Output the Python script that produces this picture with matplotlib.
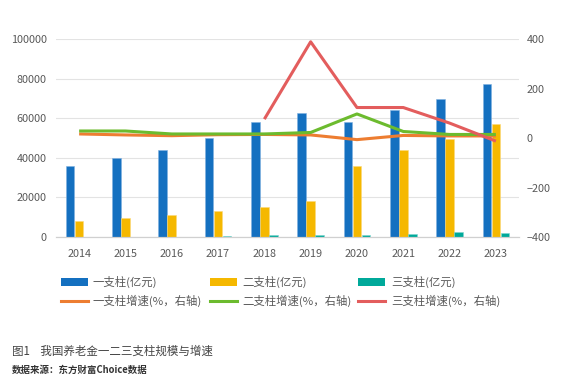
import numpy as np
import matplotlib
matplotlib.use("Agg")
from matplotlib import pyplot as plt
from matplotlib.patches import Rectangle
from matplotlib.lines import Line2D

plt.rcParams['font.family'] = ['Noto Sans CJK SC', 'DejaVu Sans']

years = ['2014', '2015', '2016', '2017', '2018', '2019', '2020', '2021', '2022', '2023']
pillar1 = [36000, 39800, 43900, 50300, 58100, 62600, 58100, 64300, 70000, 77600]
pillar2 = [7900, 9400, 11300, 12900, 14950, 18300, 36000, 44200, 49800, 57200]
pillar3 = [0, 0, 0, 700, 800, 1000, 1200, 1300, 2400, 1900]
growth1 = [17, 13, 10, 14, 15, 13, -6, 11, 9, 9]
growth2 = [29, 29, 17, 17, 17, 23, 98, 27, 15, 15]
growth3 = [np.nan, np.nan, np.nan, np.nan, 77, 390, 124, 124, 61, -12]

labels_bar = ['一支柱(亿元)', '二支柱(亿元)', '三支柱(亿元)']
labels_line = ['一支柱增速(%，右轴)', '二支柱增速(%，右轴)', '三支柱增速(%，右轴)']

c_blue, c_yellow, c_teal = '#1470C0', '#F5B800', '#00A99A'
c_orange, c_green, c_red = '#ED7D31', '#6CBB2E', '#E35D5D'
grey = '#595959'

W, H = 573, 387
fig = plt.figure(figsize=(W / 100, H / 100), dpi=100)
ax = fig.add_axes([0.0977, 0.3876, 0.8081, 0.5108])
ax2 = ax.twinx()

x = np.arange(len(years))
w = 0.185
ax.bar(x - w - 0.01, pillar1, w, color=c_blue, edgecolor='#7fb0e0', linewidth=0.4, zorder=2)
ax.bar(x, pillar2, w, color=c_yellow, edgecolor='#fbd97a', linewidth=0.4, zorder=2)
ax.bar(x + w + 0.01, pillar3, w, color=c_teal, edgecolor='#7fd6cf', linewidth=0.4, zorder=2)

ax.set_xlim(-0.5, len(years) - 0.5)
ax.set_ylim(0, 100000)
ax.set_yticks(np.arange(0, 100001, 20000))
ax.set_xticks(x)
ax.set_xticklabels(years)
ax.grid(axis='y', color='#e3e3e3', linewidth=0.8, zorder=0)
ax.set_axisbelow(True)

ax2.plot(x, growth1, color=c_orange, linewidth=2.2, solid_capstyle='butt')
ax2.plot(x, growth2, color=c_green, linewidth=2.2, solid_capstyle='butt')
ax2.plot(x, growth3, color=c_red, linewidth=2.2, solid_capstyle='butt')
ax2.set_ylim(-400, 400)
ax2.set_yticks([-400, -200, 0, 200, 400])

for a in (ax, ax2):
    for s in ['top', 'left', 'right']:
        a.spines[s].set_visible(False)
    a.spines['bottom'].set_color('#d0d0d0')
    a.tick_params(length=0, colors=grey, labelsize=7.8)
ax.tick_params(axis='x', pad=9)
ax.tick_params(axis='y', pad=6.5)
ax2.tick_params(axis='y', pad=5.5)

# legend drawn by hand (pixel positions from the top-left corner)
hx = [61, 210, 358]
tx = [92.5, 242, 391]
rows = [282, 301]
bar_cols = [c_blue, c_yellow, c_teal]
line_cols = [c_orange, c_green, c_red]
for i in range(3):
    y1 = 1 - rows[0] / H
    fig.patches.append(Rectangle((hx[i] / W, y1 - 4 / H), 27 / W, 8 / H,
                                 transform=fig.transFigure, facecolor=bar_cols[i],
                                 edgecolor='none'))
    fig.text(tx[i] / W, y1, labels_bar[i], fontsize=8.2, color=grey, va='center')
    y2 = 1 - rows[1] / H
    fig.lines.append(Line2D([hx[i] / W, (hx[i] + 27) / W], [y2, y2], transform=fig.transFigure,
                            color=line_cols[i], linewidth=2.2))
    fig.text(tx[i] / W, y2, labels_line[i], fontsize=8.2, color=grey, va='center')

fig.text(12 / W, 1 - 351 / H, '图1    我国养老金一二三支柱规模与增速', fontsize=8.3,
         color='#444444', va='center')
fig.text(12 / W, 1 - 370 / H, '数据来源：东方财富Choice数据', fontsize=6.8, color='#333333',
         fontweight='bold', va='center')

fig.savefig('out.png', dpi=100)
